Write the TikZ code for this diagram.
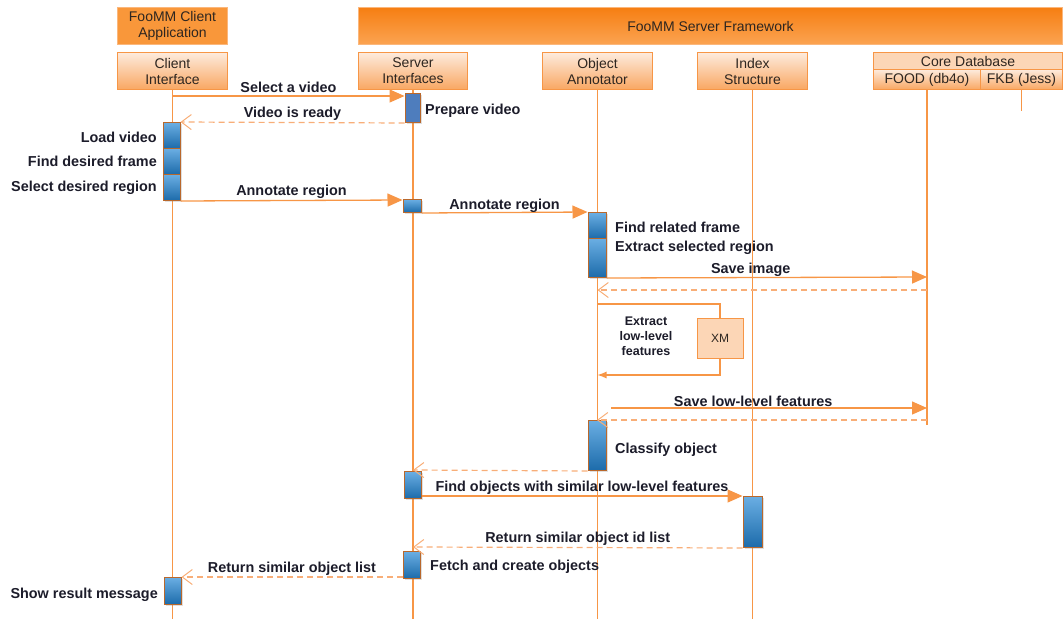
\documentclass[tikz,border=0pt]{standalone}
\usepackage{fontspec}
\setmainfont{Liberation Sans}
\usetikzlibrary{arrows.meta,shadows}
\definecolor{ln}{HTML}{F79646}
\definecolor{lnd}{HTML}{F8AE78}
\definecolor{headtop}{HTML}{FDEBDD}
\definecolor{headbot}{HTML}{F9A762}
\definecolor{frame}{HTML}{F9973A}
\definecolor{frameedge}{HTML}{FBB77C}
\definecolor{frametop}{HTML}{F67E12}
\definecolor{framebot}{HTML}{FBA452}
\definecolor{pale}{HTML}{FCD6B6}
\definecolor{acttop}{HTML}{6AAEE3}
\definecolor{actbot}{HTML}{1C6BAA}
\definecolor{actedge}{HTML}{B9682C}
\definecolor{actflat}{HTML}{4E7DBD}
\definecolor{txt}{HTML}{1C1C2A}
\definecolor{headtxt}{HTML}{2E2620}
\tikzset{
  framebox/.style={draw=frameedge, line width=1pt, fill=frame, text=headtxt, align=center,
    font=\fontsize{14}{16}\selectfont, inner sep=0pt, anchor=north west},
  headbox/.style={draw=ln, line width=1pt, top color=headtop, bottom color=headbot, text=headtxt,
    align=center, font=\fontsize{14}{16}\selectfont, inner sep=0pt, anchor=north west},
  life/.style={draw=ln, line width=1.1pt},
  act/.style={draw=actedge, line width=1pt, top color=acttop, bottom color=actbot, inner sep=0pt,
    minimum width=17pt, anchor=north,
    drop shadow={opacity=0.25, shadow xshift=1.5pt, shadow yshift=-1.5pt}},
  msg/.style={draw=ln, line width=1.3pt, -{Triangle[length=15pt,width=13pt]}},
  ret/.style={draw=lnd, line width=1.2pt, dash pattern=on 6pt off 4pt,
    -{Straight Barb[length=10pt,width=15pt,line width=1pt]}},
  lbl/.style={font=\bfseries\fontsize{14.4}{16}\selectfont, text=txt, inner sep=1pt},
  small/.style={font=\bfseries\fontsize{12.5}{15}\selectfont, text=txt, align=center, inner sep=1pt},
}
\begin{document}
\begin{tikzpicture}[x=1pt,y=-1pt]
\useasboundingbox (0,0) rectangle (1063,619);

% framework headers
\node[framebox, minimum width=110pt, minimum height=37pt] (capp) at (117,7) {FooMM Client\\Application};
\node[framebox, draw=frameedge, top color=frametop, bottom color=framebot, minimum width=704pt, minimum height=37pt] (sfw) at (358,7) {FooMM Server Framework};

% lifeline heads
\node[headbox, minimum width=110pt, minimum height=37pt] (ci) at (117,52) {Client\\Interface};
\node[headbox, minimum width=109pt, minimum height=37pt] (si) at (358,52) {Server\\Interfaces};
\node[headbox, minimum width=110pt, minimum height=37pt] (oa) at (542,52) {Object\\Annotator};
\node[headbox, minimum width=110pt, minimum height=37pt] (ix) at (697,52) {Index\\Structure};
\node[headbox, fill=pale, top color=pale, bottom color=pale, minimum width=189pt, minimum height=17pt] (cdb) at (873,52) {Core Database};
\node[headbox, minimum width=107pt, minimum height=20pt] (food) at (873,69) {FOOD (db4o)};
\node[headbox, minimum width=82pt, minimum height=20pt] (fkb) at (980,69) {FKB (Jess)};

% lifelines
\draw[life] (ci.south) -- (ci.south |- 0,619);
\draw[life] (si.south) -- (si.south |- 0,619);
\draw[life] (oa.south) -- (oa.south |- 0,619);
\draw[life] (ix.south) -- (ix.south |- 0,619);
\draw[life] (food.south) -- (food.south |- 0,425);
\draw[life] (fkb.south) -- (fkb.south |- 0,111);

% activations
\node[act, fill=actflat, top color=actflat, bottom color=actflat, minimum width=15pt, minimum height=29pt] (sv1) at (412.5,93) {};
\node[act, minimum height=26pt] (c1) at (171.5,122) {};
\node[act, minimum height=26pt] (c2) at (171.5,148) {};
\node[act, minimum height=26pt] (c3) at (171.5,174) {};
\node[act, minimum width=18pt, minimum height=13pt] (sv2) at (412,199) {};
\node[act, minimum width=18pt, minimum height=26pt] (oa1) at (597,212) {};
\node[act, minimum width=18pt, minimum height=39pt] (oa2) at (597,238) {};
\node[act, minimum width=18pt, minimum height=50pt] (oa3) at (597,420) {};
\node[act, minimum height=27pt] (sv3) at (412.5,471) {};
\node[act, minimum width=19pt, minimum height=51pt] (ix1) at (752.5,496) {};
\node[act, minimum height=27pt] (sv4) at (411.5,551) {};
\node[act, minimum height=27pt] (c4) at (172.5,577) {};

% XM box of the self call
\node[draw=ln, line width=1pt, fill=pale, minimum width=46pt, minimum height=40pt, inner sep=0pt,
  text=headtxt, font=\fontsize{12}{14}\selectfont] (xm) at (720,338) {XM};

% messages
\draw[msg] (ci |- 0,96) -- node[lbl, above=2pt] {Select a video} (sv1.west |- 0,96);
\draw[ret] (sv1.south west) -- node[lbl, above] {Video is ready} (c1.north east);
\draw[msg] (c3.south east) -- node[lbl, above] {Annotate region} (sv2.west |- 0,200);
\draw[msg] (sv2.south east) -- node[lbl, above=-2pt] {Annotate region} (oa1.north west);
\draw[msg] (oa2.south east) -- node[lbl, above=-1pt, pos=0.45] {Save image} (food |- 0,277);
\draw[ret] (food |- 0,290) -- (oa |- 0,290);

% self call through XM
\draw[ln, line width=1.1pt] (oa |- 0,304) -| (xm.north);
\draw[ln, line width=1.1pt, -{Latex[length=9pt,width=7pt]}] (xm.south) |- (oa |- 0,375);
\node[small, fill=white] (xl) at (646,336) {Extract\\low-level\\features};

\draw[msg] (611,408) -- node[lbl, above, pos=0.45] {Save low-level features} (food |- 0,408);
\draw[ret] (food |- 0,420) -- (oa3.north);
\draw[ret] (oa3.south west) -- (si |- 0,470);
\draw[msg] (sv3.east |- 0,496) -- node[lbl, above] {Find objects with similar low-level features} (ix1.north west);
\draw[ret] (ix1.south west) -- node[lbl, above] {Return similar object id list} (si |- 0,547);
\draw[ret] (sv4.west |- 0,577) -- node[lbl, above] {Return similar object list} (c4.north east);

% activity notes
\node[lbl, anchor=west] (n1) at (424,111) {Prepare video};
\node[lbl, anchor=east] (n2) at (158,137) {Load video};
\node[lbl, anchor=east] (n3) at (158,161) {Find desired frame};
\node[lbl, anchor=east] (n4) at (158,188) {Select desired region};
\node[lbl, anchor=west] (n5) at (614,227) {Find related frame};
\node[lbl, anchor=west] (n6) at (614,248) {Extract selected region};
\node[lbl, anchor=west] (n7) at (614,450) {Classify object};
\node[lbl, anchor=west] (n8) at (429,567) {Fetch and create objects};
\node[lbl, anchor=east] (n9) at (159,595) {Show result message};
\end{tikzpicture}
\end{document}
